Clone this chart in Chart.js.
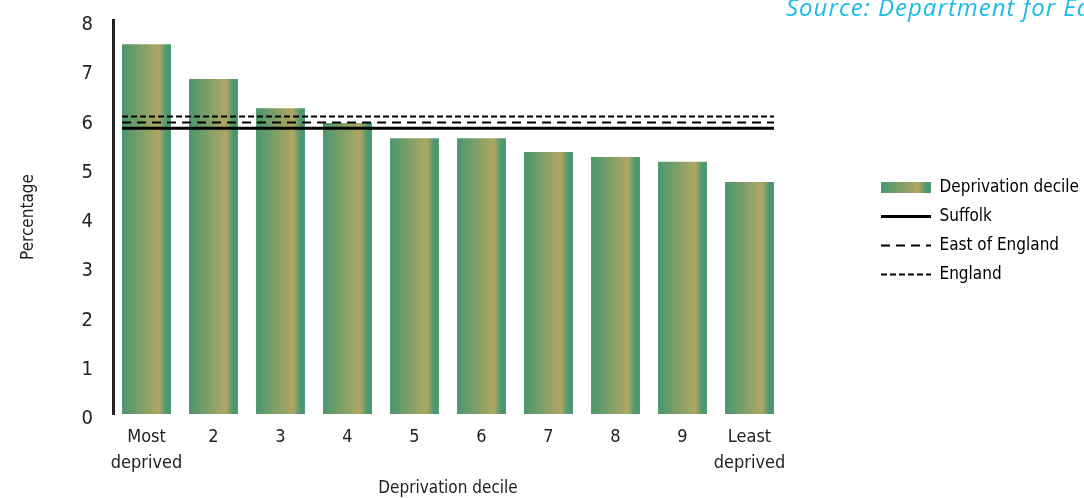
<!DOCTYPE html>
<html>
<head>
<meta charset="utf-8">
<script src="https://cdn.jsdelivr.net/npm/chart.js@4.4.1/dist/chart.umd.min.js"></script>
<style>
  html, body { margin: 0; padding: 0; background: #fff; }
  #wrap { width: 1084px; height: 498px; position: relative; }
</style>
</head>
<body>
<div id="wrap"><canvas id="bar-chart"></canvas></div>
<script>
// data
const categories = [["Most", "deprived"], "2", "3", "4", "5", "6", "7", "8", "9", ["Least", "deprived"]];
const decileValues = [7.51, 6.80, 6.21, 5.91, 5.60, 5.60, 5.32, 5.22, 5.12, 4.71];
const suffolkValue = 5.80;
const eastValue = 5.92;
const englandValue = 6.04;
const yMin = 0, yMax = 8, yStep = 1;
const SOURCE_TEXT = "Source: Department for Education";

const BAR_PCT = 0.73;
const FONT = '"DejaVu Sans Condensed", "DejaVu Sans", sans-serif';
const LEGEND_W = 301;
const LEGEND_LEFT = 869;
const LEGEND_TOP = 167;
const LEGEND_PAD = 12;

Chart.defaults.font.family = FONT;
Chart.defaults.font.size = 17;
Chart.defaults.color = '#222';

function barGradient(ctx, x0, x1) {
  const g = ctx.createLinearGradient(x0, 0, x1, 0);
  g.addColorStop(0, '#4a966e');
  g.addColorStop(0.75, '#b0a763');
  g.addColorStop(0.9, '#4f9870');
  g.addColorStop(1, '#4a966e');
  return g;
}

function refLine(label, value, dash, width) {
  const half = BAR_PCT / 2;
  return {
    type: 'line',
    label: label,
    data: [{x: -half, y: value}, {x: categories.length - 1 + half, y: value}],
    xAxisID: 'xl',
    borderColor: '#000',
    borderWidth: width,
    borderDash: dash,
    pointRadius: 0,
    fill: false,
    order: 1
  };
}

const legendPlacer = {
  id: 'legendPlacer',
  beforeLayout(chart) {
    const lg = chart.legend;
    if (lg && !lg._fixedFit) {
      const fit = lg.fit;
      lg.fit = function () { fit.call(this); this.width = LEGEND_W; };
      lg._fixedFit = true;
    }
  },
  afterLayout(chart) {
    const lg = chart.legend;
    if (!lg) return;
    lg.left = LEGEND_LEFT;
    lg.top = LEGEND_TOP;
  }
};

const sourceNote = {
  id: 'sourceNote',
  afterDraw(chart) {
    const ctx = chart.ctx;
    ctx.save();
    ctx.font = 'italic 24px "Open Sans"';
    ctx.letterSpacing = '1px';
    ctx.fillStyle = '#1bbbe9';
    ctx.textBaseline = 'alphabetic';
    ctx.fillText(SOURCE_TEXT, 786, 16);
    ctx.restore();
  }
};

new Chart(document.getElementById("bar-chart"), {
  type: 'bar',
  data: {
    labels: categories,
    datasets: [
      {
        label: "Deprivation decile",
        data: decileValues,
        barPercentage: BAR_PCT,
        categoryPercentage: 1,
        grouped: false,
        order: 2,
        backgroundColor: function (c) {
          const chart = c.chart;
          const x = chart.scales.x;
          if (!x || c.type !== 'data') return '#4a966e';
          const w = x.width / categories.length * BAR_PCT;
          const cx = x.getPixelForValue(c.dataIndex);
          if (!isFinite(cx) || !isFinite(w)) return '#4a966e';
          return barGradient(chart.ctx, cx - w / 2, cx + w / 2);
        }
      },
      refLine("Suffolk", suffolkValue, [], 3),
      refLine("East of England", eastValue, [9, 6], 2),
      refLine("England", englandValue, [6, 3], 2)
    ]
  },
  plugins: [legendPlacer, sourceNote],
  options: {
    responsive: true,
    maintainAspectRatio: false,
    animation: false,
    events: [],
    layout: { padding: { top: 20, left: 0, right: 0, bottom: 0 } },
    plugins: {
      tooltip: { enabled: false },
      legend: {
        position: 'right',
        align: 'start',
        labels: {
          usePointStyle: true,
          pointStyleWidth: 50,
          boxHeight: 11,
          padding: LEGEND_PAD,
          color: '#222',
          font: { size: 17 },
          generateLabels(chart) {
            const lg = chart.legend || {};
            const x0 = isFinite(lg.left) ? lg.left + LEGEND_PAD : 0;
            return chart.data.datasets.map(function (ds, i) {
              if (ds.type === 'line') {
                return {
                  text: ds.label, datasetIndex: i, hidden: false,
                  fillStyle: 'rgba(0,0,0,0)', strokeStyle: '#000',
                  lineWidth: ds.borderWidth, lineDash: ds.borderDash,
                  pointStyle: 'line'
                };
              }
              return {
                text: ds.label, datasetIndex: i, hidden: false,
                fillStyle: barGradient(chart.ctx, x0, x0 + 50),
                strokeStyle: 'rgba(0,0,0,0)', lineWidth: 0,
                pointStyle: 'rect'
              };
            });
          }
        }
      }
    },
    scales: {
      x: {
        grid: { display: false, drawTicks: false },
        border: { display: false },
        ticks: { padding: 10, maxRotation: 0, autoSkip: false, font: { size: 18, lineHeight: 1.44 } },
        title: { display: true, text: 'Deprivation decile', padding: 0, font: { size: 17, lineHeight: 1.1 } },
        afterFit(s) { s.height = 84; }
      },
      xl: {
        type: 'linear',
        display: false,
        offset: false,
        min: -0.5,
        max: categories.length - 0.5
      },
      y: {
        min: yMin,
        max: yMax,
        ticks: { stepSize: yStep, padding: 20, labelOffset: 5, font: { size: 20 } },
        grid: { display: false, drawTicks: false },
        border: { color: '#222', width: 3 },
        title: { display: true, text: 'Percentage', padding: { top: 18 }, font: { size: 17 } },
        afterFit(s) {
          s.width = 113;
          s.paddingTop = 0;
          s.paddingBottom = 0;
        }
      }
    }
  }
});
</script>
</body>
</html>
